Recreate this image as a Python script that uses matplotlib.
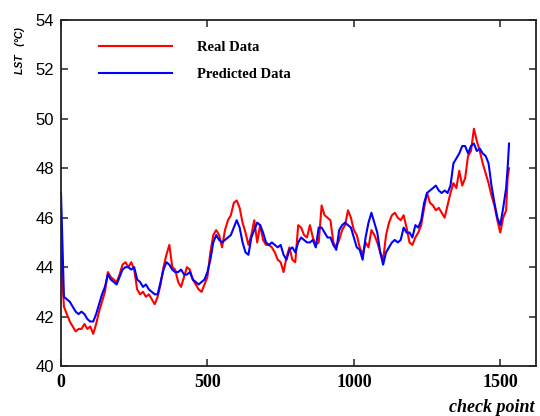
import matplotlib
matplotlib.use("Agg")
import matplotlib.pyplot as plt
import numpy as np

# check point index (every 10 points, last ones denser)
check_points = list(range(0, 1521, 10)) + [1525, 1530]

real_data = [
    44.5, 42.4, 42.1, 41.8, 41.6, 41.4, 41.5, 41.5, 41.7, 41.5,  # 0-90
    41.6, 41.3, 41.7, 42.2, 42.6, 43.0, 43.8, 43.6, 43.5, 43.4,  # 100-190
    43.7, 44.1, 44.2, 44.0, 44.2, 43.9, 43.1, 42.9, 43.0, 42.8,  # 200-290
    42.9, 42.7, 42.5, 42.8, 43.3, 44.0, 44.5, 44.9, 44.0, 43.9,  # 300-390
    43.4, 43.2, 43.6, 44.0, 43.9, 43.5, 43.3, 43.1, 43.0, 43.3,  # 400-490
    43.6, 44.6, 45.3, 45.5, 45.3, 44.8, 45.5, 45.9, 46.1, 46.6,  # 500-590
    46.7, 46.4, 45.8, 45.4, 44.9, 45.3, 45.9, 45.0, 45.7, 45.1,  # 600-690
    44.9, 44.9, 44.8, 44.6, 44.3, 44.2, 43.8, 44.4, 44.8, 44.3,  # 700-790
    44.2, 45.7, 45.6, 45.3, 45.2, 45.7, 45.2, 44.9, 45.0, 46.5,  # 800-890
    46.1, 46.0, 45.9, 45.0, 44.8, 45.1, 45.5, 45.7, 46.3, 46.0,  # 900-990
    45.5, 45.3, 44.8, 44.5, 45.0, 44.8, 45.5, 45.3, 45.0, 44.6,  # 1000-1090
    44.3, 45.3, 45.8, 46.1, 46.2, 46.0, 45.9, 46.1, 45.6, 45.0,  # 1100-1190
    44.9, 45.2, 45.4, 45.7, 46.4, 47.0, 46.6, 46.5, 46.3, 46.4,  # 1200-1290
    46.2, 46.0, 46.5, 47.0, 47.4, 47.2, 47.9, 47.3, 47.6, 48.5,  # 1300-1390
    48.7, 49.6, 49.1, 48.7, 48.2, 47.8, 47.4, 46.9, 46.5, 45.9,  # 1400-1490
    45.4, 46.0, 46.3, 47.6, 48.0,                                # 1500-1530
]

predicted_data = [
    47.0, 42.8, 42.7, 42.6, 42.4, 42.2, 42.1, 42.2, 42.1, 41.9,  # 0-90
    41.8, 41.8, 42.1, 42.5, 42.9, 43.2, 43.7, 43.5, 43.4, 43.3,  # 100-190
    43.6, 43.9, 44.0, 44.0, 43.9, 44.0, 43.5, 43.4, 43.2, 43.3,  # 200-290
    43.1, 43.0, 42.9, 42.9, 43.4, 43.9, 44.2, 44.1, 43.9, 43.8,  # 300-390
    43.8, 43.9, 43.7, 43.7, 43.8, 43.5, 43.4, 43.3, 43.4, 43.5,  # 400-490
    43.8, 44.3, 45.0, 45.3, 45.1, 45.0, 45.1, 45.2, 45.3, 45.6,  # 500-590
    45.9, 45.6, 45.0, 44.6, 44.5, 45.2, 45.5, 45.8, 45.7, 45.4,  # 600-690
    45.0, 44.9, 45.0, 44.9, 44.8, 44.9, 44.5, 44.3, 44.7, 44.8,  # 700-790
    44.6, 45.0, 45.2, 45.1, 45.0, 45.0, 45.1, 44.8, 45.6, 45.6,  # 800-890
    45.4, 45.2, 45.2, 44.9, 44.7, 45.5, 45.7, 45.8, 45.7, 45.6,  # 900-990
    45.2, 44.8, 44.7, 44.3, 45.2, 45.8, 46.2, 45.8, 45.4, 44.6,  # 1000-1090
    44.1, 44.6, 44.8, 45.0, 45.1, 45.0, 45.1, 45.6, 45.4, 45.4,  # 1100-1190
    45.2, 45.7, 45.6, 45.9, 46.6, 47.0, 47.1, 47.2, 47.3, 47.1,  # 1200-1290
    47.0, 47.1, 47.0, 47.3, 48.2, 48.4, 48.6, 48.9, 48.9, 48.6,  # 1300-1390
    48.9, 49.0, 48.7, 48.8, 48.6, 48.5, 48.2, 47.3, 46.6, 46.0,  # 1400-1490
    45.7, 46.4, 47.2, 48.0, 49.0,                                # 1500-1530
]

y_ticks = [40, 42, 44, 46, 48, 50, 52, 54]
x_ticks = [0, 500, 1000, 1500]

fig = plt.figure(figsize=(5.4, 4.16), dpi=100)
ax = fig.add_axes([61/540, 1-366/416, (536-61)/540, (366-20)/416])

ax.plot(check_points, real_data, color='#ff0000', lw=1.5, label='Real Data')
ax.plot(check_points, predicted_data, color='#0000ff', lw=1.5, label='Predicted Data')

ax.set_xlim(0, 1622)
ax.set_ylim(40, 54)
ax.set_xticks(x_ticks)
ax.set_yticks(y_ticks)
ax.set_xticklabels([str(t) for t in x_ticks], family='Liberation Serif',
                   fontweight='bold', fontsize=13)
ax.set_yticklabels([str(t) for t in y_ticks], family='Liberation Sans', fontsize=12)
ax.tick_params(direction='in', length=5, width=1.1, top=True, right=True, colors='#222222')
ax.tick_params(axis='y', pad=5, labelcolor='black')
ax.tick_params(axis='x', pad=6, labelcolor='black')
for s in ax.spines.values():
    s.set_linewidth(1.3)
    s.set_color('#222222')

leg = ax.legend(loc='upper left', bbox_to_anchor=(0.052, 0.978), frameon=False,
                handlelength=5.0, handletextpad=1.7, labelspacing=0.95,
                prop={'family': 'Liberation Serif', 'weight': 'bold', 'size': 10.5})

fig.text(20/540, 1-51/416, 'LST   (°C)', rotation=90, ha='center', va='center',
         fontsize=7.5, fontweight='bold', style='italic', family='Liberation Sans')
fig.text(449/540, 1-412/416, 'check point', ha='left', va='baseline',
         fontsize=13, fontweight='bold', style='italic', family='Liberation Serif')

fig.savefig('out.png', dpi=100)
